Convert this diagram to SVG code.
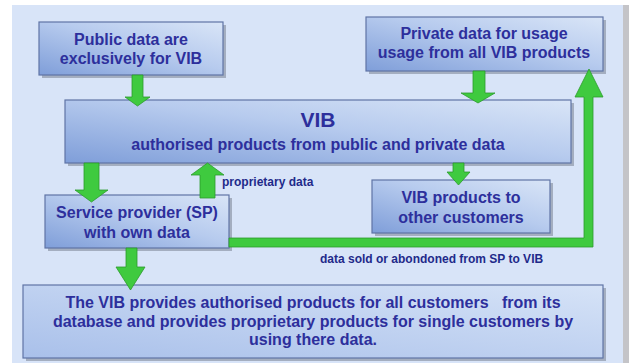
<svg xmlns="http://www.w3.org/2000/svg" width="629" height="363" viewBox="0 0 629 363">
<defs>
<linearGradient id="boxg" x1="0" y1="1" x2="1" y2="0">
<stop offset="0" stop-color="#7f9ed9"/>
<stop offset="0.55" stop-color="#b7cbee"/>
<stop offset="1" stop-color="#d9e5f7"/>
</linearGradient>
<linearGradient id="boxg2" x1="0" y1="1" x2="1" y2="0">
<stop offset="0" stop-color="#a9c0ea"/>
<stop offset="1" stop-color="#d6e3f7"/>
</linearGradient>
<style>
.box{fill:url(#boxg);stroke:#5f74a6;stroke-width:1.2}
.box2{fill:url(#boxg2);stroke:#5f74a6;stroke-width:1.2}
.sh{fill:#8e97a8;opacity:0.7}
.arr{fill:#3fca3f;stroke:#2c9a2c;stroke-width:0.8}
.t{font-family:"Liberation Sans",Arial,sans-serif;font-weight:bold;fill:#2d2f9c;text-anchor:middle;font-size:16px}
.s{font-family:"Liberation Sans",Arial,sans-serif;font-weight:bold;fill:#1f2a8a;font-size:12px}
</style>
</defs>
<rect x="0" y="0" width="629" height="363" fill="#ffffff"/>
<rect x="623" y="5" width="6" height="358" fill="#c4c4c8"/>
<rect x="12" y="5" width="611" height="358" fill="#d8e4f8"/>

<g id="public">
<rect class="sh" x="42" y="25" width="184" height="53"/>
<rect class="box" x="39" y="22" width="184" height="53"/>
<text class="t" x="131" y="45">Public data are</text>
<text class="t" x="131" y="64">exclusively for VIB</text>
</g>

<g id="private">
<rect class="sh" x="369" y="20" width="237" height="54"/>
<rect class="box" x="366" y="17" width="237" height="54"/>
<text class="t" x="484" y="39">Private data for usage</text>
<text class="t" x="484" y="58">usage from all VIB products</text>
</g>

<g id="vib">
<rect class="sh" x="68" y="103" width="506" height="63"/>
<rect class="box" x="65" y="100" width="506" height="63"/>
<text class="t" x="318" y="127" style="font-size:21px">VIB</text>
<text class="t" x="318" y="150">authorised products from public and private data</text>
</g>

<g id="sp">
<rect class="sh" x="48" y="198" width="184" height="53"/>
<rect class="box" x="45" y="195" width="184" height="53"/>
<text class="t" x="137" y="218">Service provider (SP)</text>
<text class="t" x="137" y="238">with own data</text>
</g>

<g id="other">
<rect class="sh" x="375" y="183" width="178" height="53"/>
<rect class="box" x="372" y="180" width="178" height="53"/>
<text class="t" x="461" y="203">VIB products to</text>
<text class="t" x="461" y="223">other customers</text>
</g>

<g id="bottom">
<rect class="sh" x="26" y="288" width="580" height="73"/>
<rect class="box2" x="23" y="285" width="580" height="73"/>
<text class="t" x="313" y="308" xml:space="preserve">The VIB provides authorised products for all customers   from its</text>
<text class="t" x="313" y="326.5">database and provides proprietary products for single customers by</text>
<text class="t" x="313" y="345">using there data.</text>
</g>

<g id="connectors">
<polygon class="arr" points="132,75 143,75 143,97 150,97 137.5,106 125,97 132,97"/>
<polygon class="arr" points="473,71 485,71 485,93 495,93 478,103 461,93 473,93"/>
<polygon class="arr" points="84,163 99,163 99,190 108,190 91.5,202 75,190 84,190"/>
<polygon class="arr" points="200,198 215,198 215,175 224,175 207.5,163 191,175 200,175"/>
<polygon class="arr" points="453,163 464,163 464,172 470,172 458.5,185 447,172 453,172"/>
<polygon class="arr" points="126,248 137,248 137,267 145,267 130.5,290 116,267 126,267"/>
<polygon class="arr" points="229,238 584,238 584,97 575,97 589,69 603,97 593,97 593,247 229,247"/>
<text class="s" x="222" y="186">proprietary data</text>
<text class="s" x="320" y="263">data sold or abondoned from SP to VIB</text>
</g>
</svg>
